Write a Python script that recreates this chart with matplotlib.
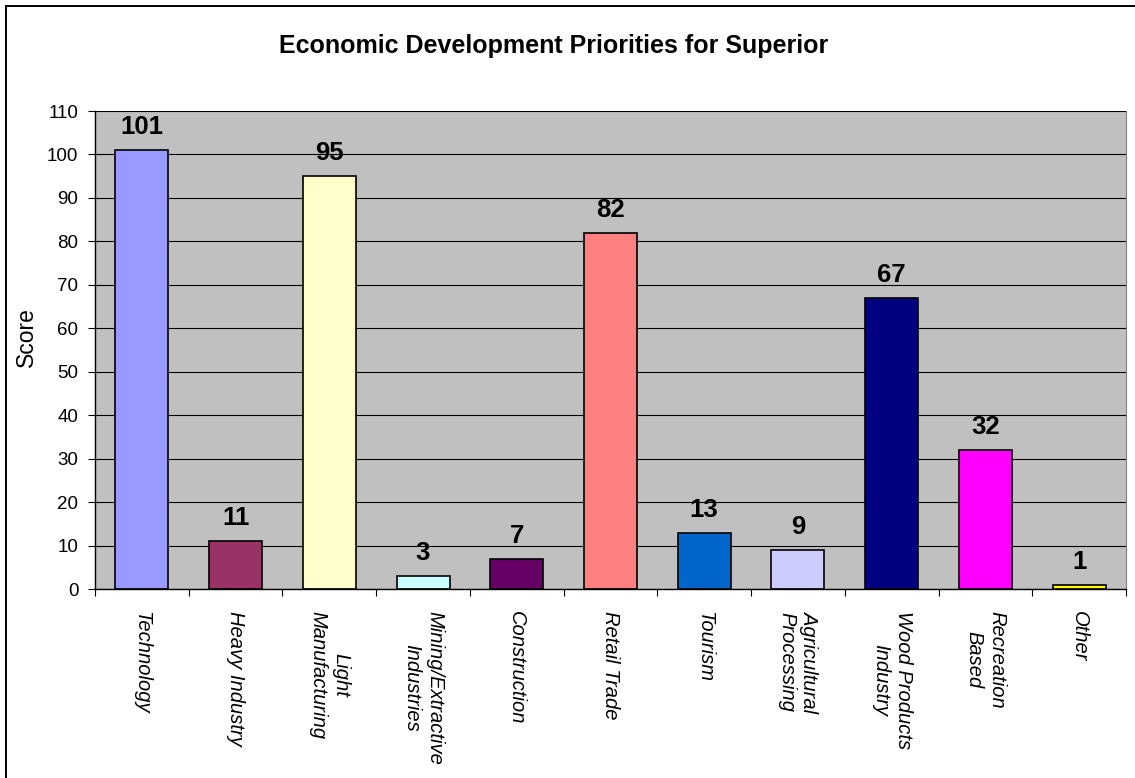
import matplotlib

matplotlib.use("Agg")

import matplotlib.pyplot as plt
import numpy as np
from matplotlib.lines import Line2D

plt.rcParams["font.family"] = ["Liberation Sans", "DejaVu Sans"]

CATEGORIES = [
    "Technology",
    "Heavy Industry",
    "Light\nManufacturing",
    "Mining/Extractive\nIndustries",
    "Construction",
    "Retail Trade",
    "Tourism",
    "Agricultural\nProcessing",
    "Wood Products\nIndustry",
    "Recreation\nBased",
    "Other",
]
SCORES = [101, 11, 95, 3, 7, 82, 13, 9, 67, 32, 1]
COLORS = [
    "#9999FF", "#993366", "#FFFFCC", "#CCFFFF", "#660066", "#FF8080",
    "#0066CC", "#CCCCFF", "#000080", "#FF00FF", "#FFFF00",
]
Y_TICKS = list(range(0, 111, 10))

W, H = 1135, 778
fig = plt.figure(figsize=(W / 100, H / 100), dpi=100)
ax = fig.add_axes([95 / W, 1 - 589 / H, 1031 / W, 478 / H])

# chart-area frame: only the top and left edges fall inside the image
fig.add_artist(Line2D([6 / W, 1], [1 - 6 / H, 1 - 6 / H],
                      transform=fig.transFigure, color="black", lw=1.4))
fig.add_artist(Line2D([6 / W, 6 / W], [0, 1 - 6 / H],
                      transform=fig.transFigure, color="black", lw=1.4))

x = np.arange(len(CATEGORIES))
ax.set_facecolor("#C0C0C0")
ax.set_axisbelow(True)
ax.yaxis.grid(True, color="black", linewidth=0.8)
ax.bar(x, SCORES, width=0.565, color=COLORS, edgecolor="black",
       linewidth=1.2, zorder=2)

for xi, val in zip(x, SCORES):
    ax.annotate(str(val), (xi, val), textcoords="offset points",
                xytext=(0, 11.5), ha="center", va="baseline",
                fontsize=18.5, fontweight="bold")

ax.set_xlim(-0.5, len(CATEGORIES) - 0.5)
ax.set_ylim(0, 110)
ax.set_yticks(Y_TICKS)
ax.tick_params(axis="y", labelsize=13.5, length=5, width=0.8,
               direction="out", pad=7)

# category labels at bar centres, tick marks on the boundaries
ax.set_xticks(x)
ax.set_xticklabels(CATEGORIES, rotation=270, style="italic", fontsize=14.5,
                   ha="center", va="top", multialignment="center",
                   linespacing=1.25)
ax.set_xticks(np.arange(-0.5, len(CATEGORIES)), minor=True)
ax.tick_params(axis="x", which="major", length=0, pad=16)
ax.tick_params(axis="x", which="minor", length=5, width=0.8,
               direction="out")

ax.spines["top"].set_visible(False)
ax.spines["right"].set_color("#808080")
for side in ("left", "bottom"):
    ax.spines[side].set_linewidth(1.0)

fig.text(26 / W, 1 - 337 / H, "Score", rotation=90, ha="center",
         va="center", fontsize=16.5)
fig.text(279 / W, 1 - 53 / H, "Economic Development Priorities for Superior",
         ha="left", va="baseline", fontsize=18, fontweight="bold")

fig.savefig("out.png", dpi=100)
